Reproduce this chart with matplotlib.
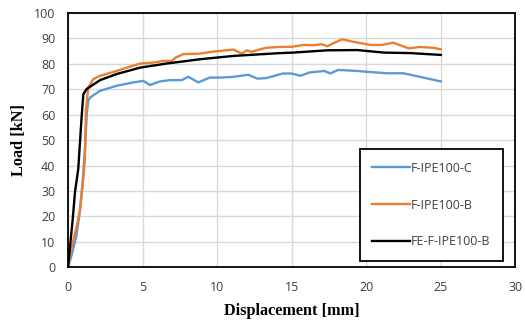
import matplotlib.pyplot as plt

# F-IPE100-C (test)
x_c = [0, 0.25, 0.55, 0.8, 1.0, 1.15, 1.27, 1.36, 1.48, 2.15, 3.27, 4.38, 5.05, 5.5, 6.17, 6.85,
       7.63, 8.07, 8.75, 9.5, 10.2, 11.1, 12.1, 12.7, 13.3, 14.4, 15.0, 15.6, 16.2, 17.2,
       17.6, 18.1, 19.4, 20.0, 21.4, 22.5, 23.6, 25.0]
y_c = [0, 5, 12, 22, 35, 48, 61, 65.4, 66.7, 69.3, 71.3, 72.6, 73.2, 71.6, 73.0, 73.5,
       73.5, 74.8, 72.6, 74.5, 74.5, 74.8, 75.6, 74.1, 74.3, 76.1, 76.1, 75.2, 76.5, 77.1,
       76.1, 77.5, 77.1, 76.8, 76.2, 76.2, 74.8, 73.0]

# F-IPE100-B (test)
x_b = [0, 0.25, 0.58, 0.8, 1.0, 1.14, 1.2, 1.36, 1.7, 2.15, 3.27, 3.94, 4.83, 5.72, 6.4,
       6.96, 7.2, 7.74, 8.86, 9.75, 11.1, 11.66, 12.0, 12.3, 12.9, 13.3, 14.2, 15.0, 15.8,
       16.5, 17.0, 17.4, 17.8, 18.4, 19.1, 20.3, 21.05, 21.8, 22.85, 23.6, 24.5, 25.0]
y_b = [0, 8, 16, 22.5, 33, 43, 61.5, 70.6, 73.9, 75.2, 77.1, 78.4, 80.0, 80.4, 81.0,
       81.0, 82.3, 83.7, 83.9, 84.7, 85.5, 83.9, 85.2, 84.6, 85.6, 86.2, 86.5, 86.6, 87.3,
       87.2, 87.6, 86.8, 88.0, 89.5, 88.6, 87.3, 87.3, 88.2, 86.0, 86.5, 86.2, 85.6]

# FE-F-IPE100-B (numerical)
x_fe = [0, 0.31, 0.47, 0.69, 0.92, 1.03, 1.25, 2.15, 3.27, 4.83, 6.6, 8.86, 11.1, 14.2,
        15.1, 17.4, 19.4, 21.2, 23.0, 25.0]
y_fe = [0, 18.5, 29.6, 38.7, 59.6, 68.0, 70.0, 73.5, 75.9, 78.4, 80.0, 81.7, 83.0, 84.1,
        84.3, 85.2, 85.3, 84.3, 84.1, 83.4]

tick_col = '#404040'

fig = plt.figure(figsize=(5.25, 3.23), dpi=100)
ax = fig.add_axes([0.1295, 0.172, 0.852, 0.789])

ax.plot(x_c, y_c, color='#5b9bd5', linewidth=1.7, label='F-IPE100-C')
ax.plot(x_b, y_b, color='#ed7d31', linewidth=1.7, label='F-IPE100-B')
ax.plot(x_fe, y_fe, color='black', linewidth=1.7, label='FE-F-IPE100-B')

ax.set_xlim(0, 30)
ax.set_ylim(0, 100)
ax.set_xticks(range(0, 31, 5))
ax.set_yticks(range(0, 101, 10))
ax.grid(True, color='#d9d9d9', linewidth=1)
ax.set_axisbelow(True)
for s in ax.spines.values():
    s.set_color('black')
    s.set_linewidth(1.3)
ax.tick_params(length=0, labelsize=9, labelcolor=tick_col)
ax.tick_params(axis='x', pad=10)
ax.tick_params(axis='y', pad=9)
for lab in ax.get_xticklabels() + ax.get_yticklabels():
    lab.set_family('Open Sans')

ax.set_xlabel('Displacement [mm]', family='Liberation Serif', fontweight='bold',
              fontsize=11.7, labelpad=6)
ax.set_ylabel('Load [kN]', family='Liberation Serif', fontweight='bold',
              fontsize=11.7, labelpad=5)

leg = ax.legend(loc='center', bbox_to_anchor=(0.64, 0.035, 0.344, 0.42),
                fancybox=False, edgecolor='black', framealpha=1,
                labelspacing=1.9, handlelength=3.0, handletextpad=0.1,
                prop={'family': 'Open Sans', 'size': 9}, borderpad=1.0)
leg.get_frame().set_linewidth(1.3)
for t in leg.get_texts():
    t.set_color(tick_col)

fig.savefig('out.png', dpi=100)
